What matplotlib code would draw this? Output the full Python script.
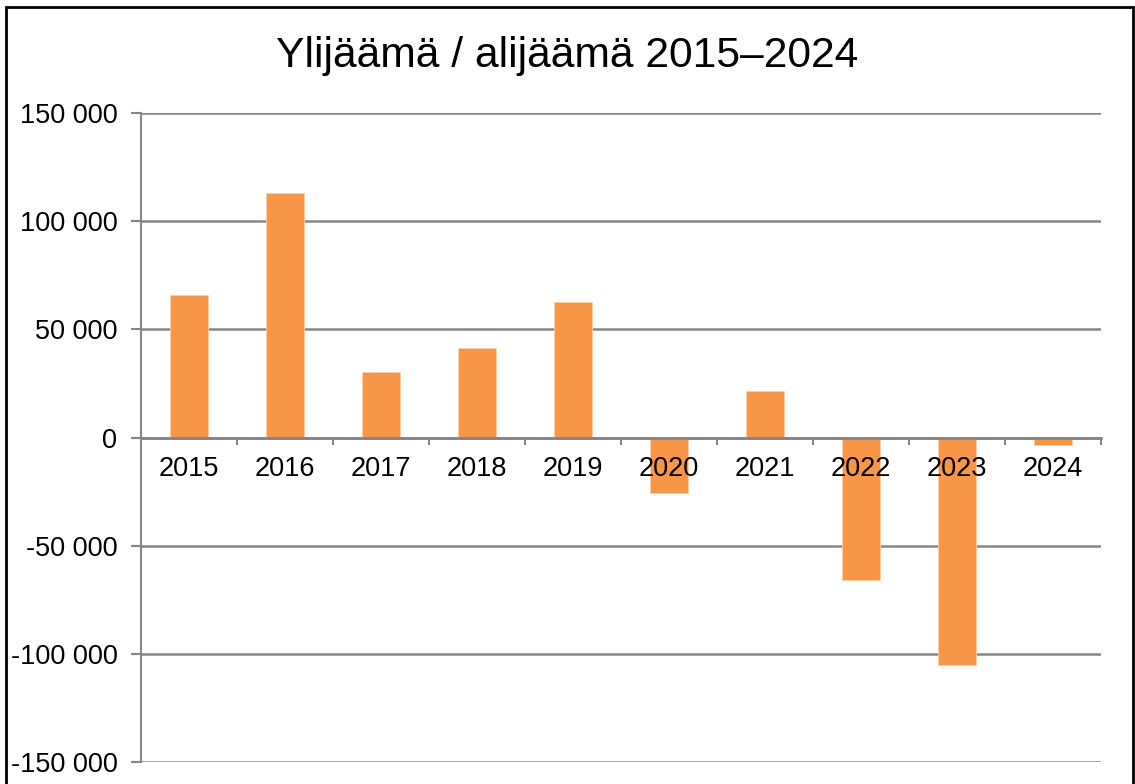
import matplotlib

matplotlib.use("Agg")
import matplotlib.pyplot as plt
from matplotlib.patches import Rectangle
from matplotlib.ticker import FuncFormatter, FixedLocator

plt.rcParams["font.family"] = ["Liberation Sans", "DejaVu Sans"]

years = ["2015", "2016", "2017", "2018", "2019", "2020", "2021", "2022", "2023", "2024"]
balance = [65700, 112800, 30200, 41600, 62500, -25700, 21500, -65900, -105100, -3500]
y_ticks = [-150000, -100000, -50000, 0, 50000, 100000, 150000]

BAR_COLOR = "#F79646"
GRID_COLOR = "#868686"


def fmt_thousands(v, _pos):
    v = int(round(v))
    return f"{v:,}".replace(",", " ")


fig = plt.figure(figsize=(11.35, 7.84), dpi=100)
ax = fig.add_axes([141 / 1135, 1 - 762 / 784, (1101 - 141) / 1135, (762 - 113) / 784])

x = list(range(len(years)))
ax.bar(x, balance, width=0.4, color=BAR_COLOR, edgecolor="#FBCFA8", linewidth=0.6, zorder=3)

ax.set_xlim(-0.5, len(years) - 0.5)
ax.set_ylim(-150000, 150000)
ax.set_yticks(y_ticks)
ax.yaxis.set_major_formatter(FuncFormatter(fmt_thousands))
ax.grid(axis="y", color=GRID_COLOR, linewidth=1.8, zorder=0)
ax.set_axisbelow(True)

for side in ("top", "right"):
    ax.spines[side].set_visible(False)
ax.spines["left"].set_color(GRID_COLOR)
ax.spines["left"].set_linewidth(1.5)
ax.spines["bottom"].set_position(("data", 0))
ax.spines["bottom"].set_color(GRID_COLOR)
ax.spines["bottom"].set_linewidth(2)
ax.spines["bottom"].set_zorder(4)

ax.set_xticks(x)
ax.set_xticklabels(years)
ax.xaxis.set_minor_locator(FixedLocator([i + 0.5 for i in x]))
ax.tick_params(axis="x", which="major", length=0, pad=13, labelsize=19.5, colors="black")
ax.tick_params(axis="x", which="minor", length=5, width=1.5, color=GRID_COLOR, direction="out")
ax.tick_params(axis="y", length=7, width=1.5, color=GRID_COLOR, pad=10, labelsize=19.5, labelcolor="black")
# keep the year labels on top of the bars, as in the original
ax.xaxis.set_zorder(5)

fig.text(0.5, 1 - 56 / 784, "Ylijäämä / alijäämä 2015–2024", ha="center", va="center", fontsize=30.7)

fig.patches.append(Rectangle((6 / 1135, -0.05), (1127 / 1135), 1.05 - 7 / 784,
                             transform=fig.transFigure, fill=False, edgecolor="black",
                             linewidth=2))

fig.savefig("out.png", dpi=100)
